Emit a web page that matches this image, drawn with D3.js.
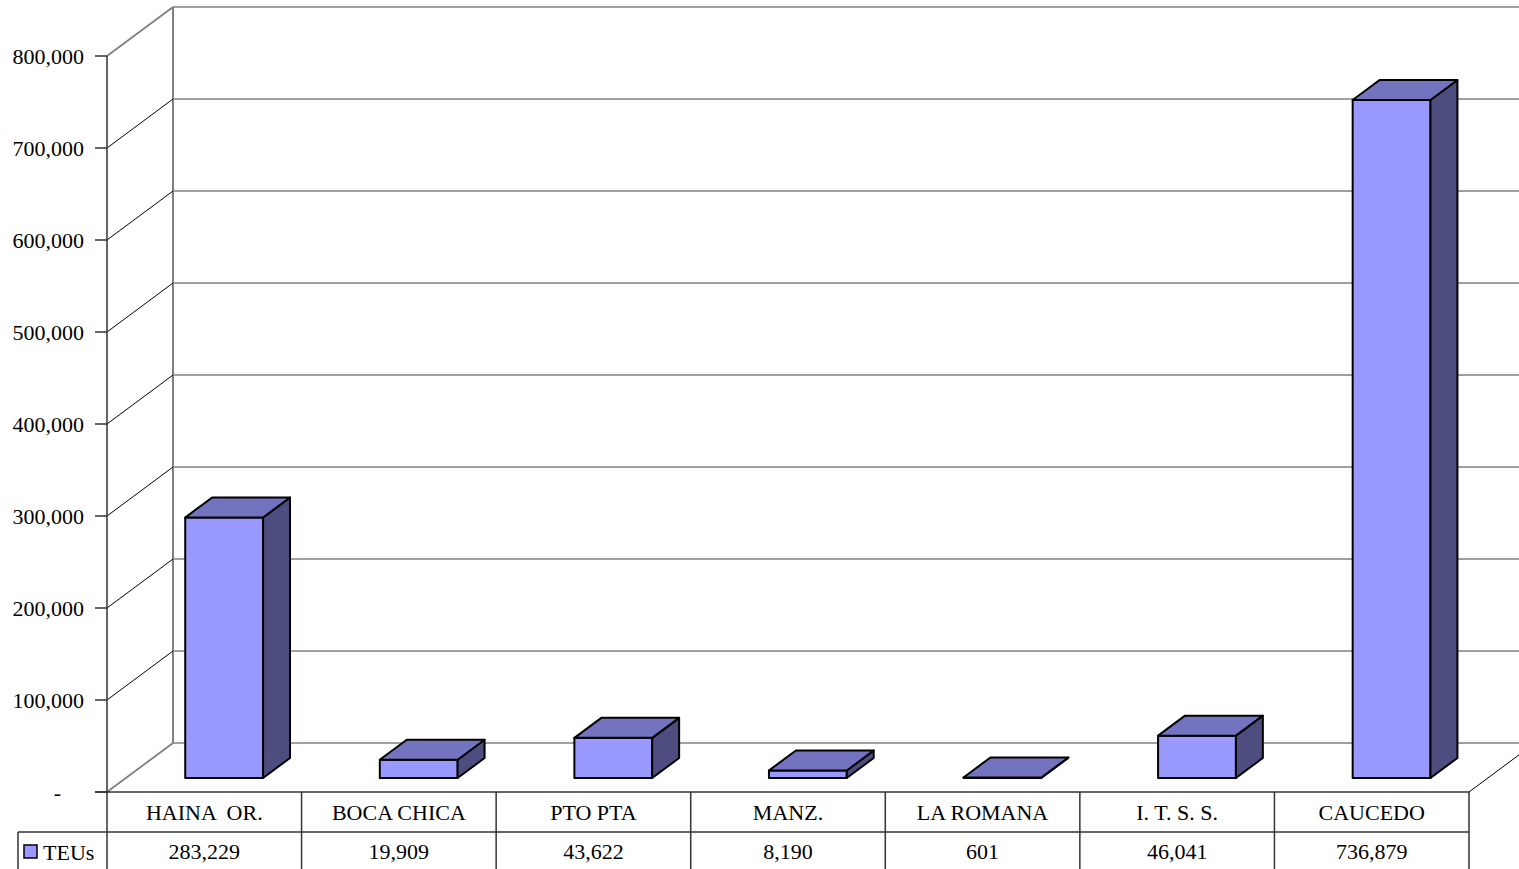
<!DOCTYPE html>
<html>
<head>
<meta charset="utf-8">
<script src="https://cdn.jsdelivr.net/npm/d3@7"></script>
<style>
  html, body { margin: 0; padding: 0; background: #fff; overflow: hidden; }
  svg text { font-family: "Liberation Serif", "Times New Roman", serif; font-size: 22px; fill: #000; white-space: pre; }
</style>
</head>
<body>
<svg id="chart" width="1519" height="869"></svg>
<script>
// data
const categories = ['HAINA  OR.', 'BOCA CHICA', 'PTO PTA', 'MANZ.', 'LA ROMANA', 'I. T. S. S.', 'CAUCEDO']
const teus = [283229, 19909, 43622, 8190, 601, 46041, 736879]
const valueLabels = ['283,229', '19,909', '43,622', '8,190', '601', '46,041', '736,879']
const yTicks = [0, 100000, 200000, 300000, 400000, 500000, 600000, 700000, 800000]
const seriesName = 'TEUs'

const svg = d3.select('#chart')

// front plane scales, depth offset for the 3d look
const x = d3.scaleBand().domain(categories).range([107, 1469])
const y = d3.scaleLinear().domain([0, 800000]).range([792, 56])
const depth = { dx: 66, dy: -49 }
const z0 = 14 / 49
const z1 = 34 / 49

// front-plane point + depth -> screen
function proj (px, py, z) {
  return [px + z * depth.dx, py + z * depth.dy]
}
function pts (arr) {
  return arr.map(p => p.join(',')).join(' ')
}

const grid = '#808080'
const x0 = x.range()[0]
const x1 = x.range()[1]

// back wall gridlines
svg.append('g').selectAll('line')
  .data(yTicks)
  .join('line')
  .attr('x1', d => proj(x0, y(d), 1)[0])
  .attr('y1', d => proj(x0, y(d), 1)[1])
  .attr('x2', d => proj(x1, y(d), 1)[0])
  .attr('y2', d => proj(x1, y(d), 1)[1])
  .attr('stroke', grid)
  .attr('stroke-width', 1.6)

// back wall left edge
svg.append('line')
  .attr('x1', proj(x0, y(0), 1)[0]).attr('y1', proj(x0, y(0), 1)[1])
  .attr('x2', proj(x0, y(800000), 1)[0]).attr('y2', proj(x0, y(800000), 1)[1])
  .attr('stroke', grid).attr('stroke-width', 2)

// side wall diagonals
svg.append('g').selectAll('line')
  .data(yTicks)
  .join('line')
  .attr('x1', x0)
  .attr('y1', d => y(d))
  .attr('x2', d => proj(x0, y(d), 1)[0])
  .attr('y2', d => proj(x0, y(d), 1)[1])
  .attr('stroke', d => (d === 0 || d === 800000) ? grid : '#000')
  .attr('stroke-width', d => (d === 0 || d === 800000) ? 1.8 : 1)

// floor right edge
svg.append('line')
  .attr('x1', x1).attr('y1', y(0))
  .attr('x2', proj(x1, y(0), 1)[0]).attr('y2', proj(x1, y(0), 1)[1])
  .attr('stroke', '#000').attr('stroke-width', 1)

// bars
const bw = x.bandwidth()
const bars = svg.append('g')
  .attr('transform', 'translate(1,0)')
  .selectAll('g')
  .data(categories.map((c, i) => ({ c, v: teus[i] })))
  .join('g')

bars.each(function (d) {
  const g = d3.select(this)
  const l = x(d.c) + bw * 0.3
  const r = x(d.c) + bw * 0.7
  const b = y(0)
  const t = y(d.v)
  const front = [proj(l, b, z0), proj(r, b, z0), proj(r, t, z0), proj(l, t, z0)]
  const side = [proj(r, b, z0), proj(r, b, z1), proj(r, t, z1), proj(r, t, z0)]
  const top = [proj(l, t, z0), proj(r, t, z0), proj(r, t, z1), proj(l, t, z1)]
  const faces = [[front, '#9999FF'], [side, '#4D4D80'], [top, '#7373BF']]
  faces.forEach(([f, col]) => {
    g.append('polygon')
      .attr('points', pts(f))
      .attr('fill', col)
      .attr('stroke', '#000')
      .attr('stroke-width', 2)
      .attr('stroke-linejoin', 'round')
  })
})

// y axis
svg.append('line')
  .attr('x1', x0).attr('y1', y(800000))
  .attr('x2', x0).attr('y2', 869)
  .attr('stroke', '#333').attr('stroke-width', 1.5)

const ticks = svg.append('g')
ticks.selectAll('line')
  .data(yTicks)
  .join('line')
  .attr('x1', x0 - 12).attr('x2', x0)
  .attr('y1', d => y(d)).attr('y2', d => y(d))
  .attr('stroke', '#333').attr('stroke-width', 1.5)
ticks.selectAll('text')
  .data(yTicks)
  .join('text')
  .attr('x', d => d === 0 ? 61 : 84)
  .attr('y', d => y(d))
  .attr('dy', '0.35em')
  .attr('text-anchor', 'end')
  .text(d => d === 0 ? '-' : d3.format(',')(d))

// data table
const tbl = svg.append('g')
const line = '#333'
tbl.append('line').attr('x1', x0 - 12).attr('x2', x1).attr('y1', 792).attr('y2', 792)
  .attr('stroke', line).attr('stroke-width', 1.5)
tbl.append('line').attr('x1', 18).attr('x2', x1).attr('y1', 832).attr('y2', 832)
  .attr('stroke', line).attr('stroke-width', 1.5)
tbl.append('line').attr('x1', 18).attr('x2', 18).attr('y1', 832).attr('y2', 869)
  .attr('stroke', line).attr('stroke-width', 1.5)
tbl.selectAll('line.v')
  .data(categories)
  .join('line')
  .attr('class', 'v')
  .attr('x1', d => x(d) + bw).attr('x2', d => x(d) + bw)
  .attr('y1', 792).attr('y2', 869)
  .attr('stroke', line).attr('stroke-width', 1.5)
tbl.selectAll('text.cat')
  .data(categories)
  .join('text')
  .attr('class', 'cat')
  .attr('x', d => x(d) + bw / 2)
  .attr('y', 812)
  .attr('dy', '0.35em')
  .attr('text-anchor', 'middle')
  .text(d => d)
tbl.selectAll('text.val')
  .data(categories)
  .join('text')
  .attr('class', 'val')
  .attr('x', d => x(d) + bw / 2)
  .attr('y', 851)
  .attr('dy', '0.35em')
  .attr('text-anchor', 'middle')
  .text((d, i) => valueLabels[i])

// legend key
tbl.append('rect')
  .attr('x', 24).attr('y', 845).attr('width', 13).attr('height', 13)
  .attr('fill', '#9999FF').attr('stroke', '#000').attr('stroke-width', 1.5)
tbl.append('text')
  .attr('x', 43).attr('y', 852).attr('dy', '0.35em')
  .text(seriesName)
</script>
</body>
</html>
